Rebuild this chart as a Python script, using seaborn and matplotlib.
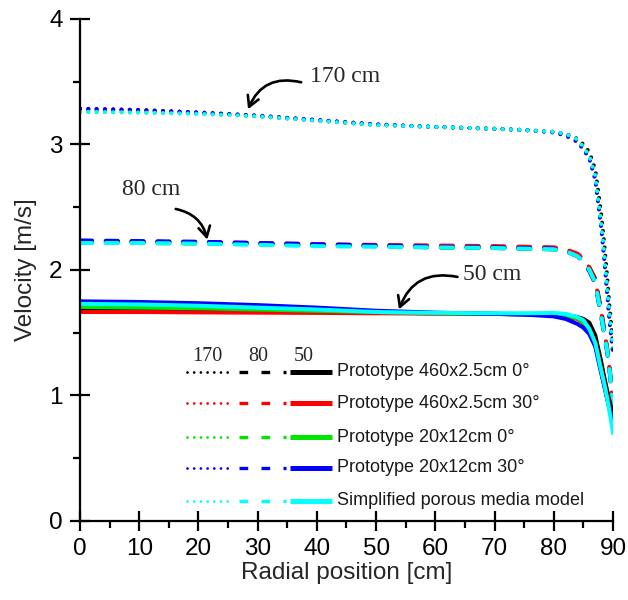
import matplotlib
matplotlib.use("Agg")
import matplotlib.pyplot as plt
import seaborn as sns
import numpy as np
import pandas as pd

sns.set_style("ticks")
plt.rcParams["font.family"] = ["Liberation Sans", "DejaVu Sans"]

# Radial positions where velocities are sampled
radial = [0, 10, 20, 30, 40, 50, 60, 70, 75, 80, 82, 84, 85, 86, 87, 88, 88.5, 89, 89.5, 90]

series_names = [
    "Prototype 460x2.5cm 0°",
    "Prototype 460x2.5cm 30°",
    "Prototype 20x12cm 0°",
    "Prototype 20x12cm 30°",
    "Simplified porous media model",
]
series_colors = ["#000000", "#ff0000", "#00e600", "#0000ff", "#00ffff"]

# Velocity profiles at 170 cm height (dotted)
v170_black = [3.285, 3.275, 3.255, 3.23, 3.195, 3.16, 3.14, 3.125, 3.115, 3.10, 3.085, 3.045, 3.00, 2.94, 2.80, 2.45, 2.22, 1.95, 1.66, 1.40]
v170_red   = [3.275, 3.27, 3.25, 3.225, 3.19, 3.155, 3.14, 3.125, 3.115, 3.10, 3.08, 3.03, 2.97, 2.90, 2.74, 2.36, 2.12, 1.84, 1.56, 1.33]
v170_green = [3.26, 3.255, 3.245, 3.225, 3.19, 3.155, 3.14, 3.125, 3.115, 3.10, 3.08, 3.035, 2.98, 2.91, 2.75, 2.37, 2.13, 1.85, 1.58, 1.36]
v170_blue  = [3.285, 3.275, 3.255, 3.23, 3.195, 3.16, 3.14, 3.125, 3.115, 3.095, 3.07, 3.02, 2.96, 2.89, 2.72, 2.34, 2.10, 1.82, 1.55, 1.35]
v170_cyan  = [3.26, 3.255, 3.245, 3.225, 3.19, 3.155, 3.14, 3.125, 3.115, 3.10, 3.085, 3.04, 2.98, 2.91, 2.75, 2.37, 2.14, 1.86, 1.60, 1.38]

# Velocity profiles at 80 cm height (dashed)
v80_black = [2.23, 2.225, 2.22, 2.21, 2.20, 2.19, 2.18, 2.175, 2.17, 2.165, 2.15, 2.12, 2.09, 2.02, 1.93, 1.68, 1.53, 1.38, 1.19, 0.88]
v80_red   = [2.225, 2.225, 2.22, 2.215, 2.205, 2.20, 2.195, 2.19, 2.185, 2.18, 2.165, 2.13, 2.09, 2.02, 1.92, 1.66, 1.52, 1.37, 1.18, 0.88]
v80_green = [2.215, 2.215, 2.21, 2.205, 2.195, 2.19, 2.18, 2.175, 2.17, 2.165, 2.15, 2.11, 2.07, 2.00, 1.90, 1.64, 1.50, 1.36, 1.17, 0.85]
v80_blue  = [2.235, 2.23, 2.225, 2.215, 2.205, 2.195, 2.185, 2.18, 2.175, 2.17, 2.15, 2.11, 2.06, 1.99, 1.89, 1.63, 1.49, 1.35, 1.16, 0.84]
v80_cyan  = [2.215, 2.215, 2.21, 2.20, 2.19, 2.185, 2.18, 2.175, 2.17, 2.165, 2.15, 2.11, 2.07, 2.00, 1.90, 1.64, 1.50, 1.36, 1.17, 0.82]

# Velocity profiles at 50 cm height (solid)
v50_black = [1.69, 1.69, 1.685, 1.68, 1.67, 1.66, 1.655, 1.65, 1.645, 1.64, 1.635, 1.625, 1.61, 1.58, 1.48, 1.27, 1.15, 1.04, 0.94, 0.85]
v50_red   = [1.665, 1.665, 1.662, 1.66, 1.658, 1.655, 1.652, 1.65, 1.648, 1.64, 1.63, 1.61, 1.58, 1.52, 1.41, 1.20, 1.09, 0.98, 0.88, 0.78]
v50_green = [1.705, 1.70, 1.695, 1.685, 1.675, 1.665, 1.655, 1.65, 1.648, 1.645, 1.64, 1.615, 1.585, 1.525, 1.41, 1.20, 1.09, 0.98, 0.87, 0.76]
v50_blue  = [1.75, 1.745, 1.735, 1.72, 1.70, 1.675, 1.66, 1.65, 1.645, 1.63, 1.61, 1.57, 1.54, 1.49, 1.39, 1.18, 1.08, 0.98, 0.88, 0.80]
v50_cyan  = [1.73, 1.725, 1.715, 1.70, 1.685, 1.665, 1.658, 1.655, 1.655, 1.658, 1.65, 1.625, 1.60, 1.53, 1.42, 1.20, 1.10, 0.98, 0.85, 0.70]

profiles_170 = [v170_black, v170_red, v170_green, v170_blue, v170_cyan]
profiles_80 = [v80_black, v80_red, v80_green, v80_blue, v80_cyan]
profiles_50 = [v50_black, v50_red, v50_green, v50_blue, v50_cyan]

height_labels = ["170", "80", "50"]
annotation_texts = ["170 cm", "80 cm", "50 cm"]

x_ticks = [0, 10, 20, 30, 40, 50, 60, 70, 80, 90]
y_ticks = [0, 1, 2, 3, 4]

DOT = (0, (0.01, 2.05))
DASH = (0, (3.0, 3.4))

fig = plt.figure(figsize=(6.28, 6.0), dpi=100)
ax = fig.add_axes([0.1274, 0.1317, 0.8487, 0.8367])

for vals, color in zip(profiles_170, series_colors):
    sns.lineplot(x=radial, y=vals, color=color, linestyle=DOT, lw=2.9,
                 dash_capstyle="round", ax=ax, sort=False)
for vals, color in zip(profiles_80, series_colors):
    sns.lineplot(x=radial, y=vals, color=color, linestyle=DASH, lw=2.9,
                 dash_capstyle="round", ax=ax, sort=False)
for vals, color in zip(profiles_50, series_colors):
    sns.lineplot(x=radial, y=vals, color=color, linestyle="-", lw=2.9,
                 solid_capstyle="round", ax=ax, sort=False)

ax.set_xlim(0, 90)
ax.set_ylim(0, 4)
ax.set_xticks(x_ticks)
ax.set_yticks(y_ticks)
ax.set_xticks(np.arange(5, 90, 10), minor=True)
ax.set_yticks(np.arange(0.5, 4, 1), minor=True)
ax.tick_params(which="major", direction="inout", length=15, width=1.6,
               labelsize=17.5, pad=5, color="black", labelcolor="black")
ax.tick_params(which="minor", direction="out", length=5, width=1.6, color="black")
for side in ("left", "bottom"):
    ax.spines[side].set_linewidth(1.6)
    ax.spines[side].set_color("black")
sns.despine(ax=ax)
ax.set_xlabel("Radial position [cm]", fontsize=17.5, labelpad=1)
ax.set_ylabel("Velocity [m/s]", fontsize=17.5, labelpad=9)

# Height annotations with curved arrows
serif = ["Liberation Serif", "DejaVu Serif"]
arrow_kw = dict(arrowstyle="->,head_length=0.75,head_width=0.42", lw=1.9, color="black")
ax.text(38.8, 3.54, annotation_texts[0], family=serif, fontsize=17, ha="left", va="center")
ax.annotate("", xy=(28.2, 3.26), xytext=(37.8, 3.49),
            arrowprops=dict(connectionstyle="arc3,rad=0.45", **arrow_kw))
ax.text(7.1, 2.64, annotation_texts[1], family=serif, fontsize=17, ha="left", va="center")
ax.annotate("", xy=(21.6, 2.22), xytext=(15.7, 2.49),
            arrowprops=dict(connectionstyle="arc3,rad=-0.35", **arrow_kw))
ax.text(64.6, 1.96, annotation_texts[2], family=serif, fontsize=17, ha="left", va="center")
ax.annotate("", xy=(53.7, 1.665), xytext=(64.2, 1.94),
            arrowprops=dict(connectionstyle="arc3,rad=0.45", **arrow_kw))

# Legend: one row per model, with dotted / dashed / solid keys for the three heights
row_y = [0.297, 0.235, 0.167, 0.106, 0.040]
for yy, color, name in zip(row_y, series_colors, series_names):
    ax.plot([0.201, 0.287], [yy, yy], transform=ax.transAxes, color=color,
            linestyle=(0, (0.01, 2.4)), lw=2.0, dash_capstyle="round", clip_on=False)
    ax.plot([0.298, 0.386], [yy, yy], transform=ax.transAxes, color=color,
            linestyle=(0, (2.6, 4.0)), lw=2.4, dash_capstyle="butt", clip_on=False)
    ax.plot([0.394, 0.473], [yy, yy], transform=ax.transAxes, color=color,
            linestyle="-", lw=3.6, solid_capstyle="butt", clip_on=False)
    ax.text(0.482, yy, name, transform=ax.transAxes, fontsize=13,
            ha="left", va="center", color="#1a1a1a")
for xx, lab in zip([0.238, 0.334, 0.42], height_labels):
    ax.text(xx, 0.327, lab, transform=ax.transAxes, family=serif, fontsize=14.5,
            ha="center", va="center")

fig.savefig("out.png", dpi=100)
